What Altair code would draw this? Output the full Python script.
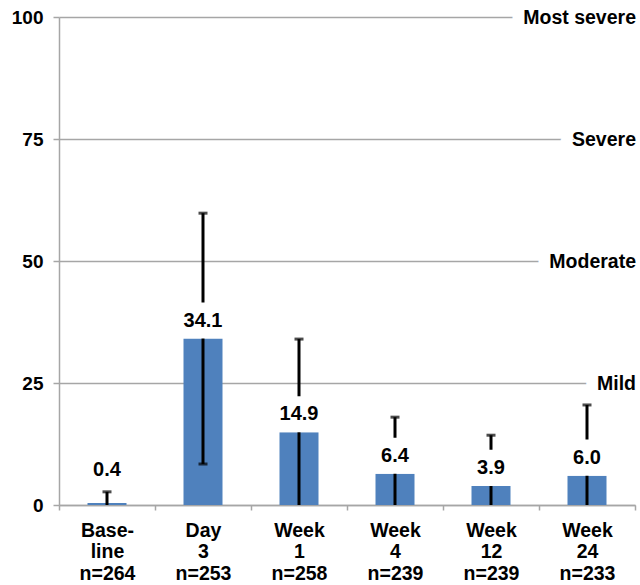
import altair as alt
import pandas as pd

# Time points (two label lines) and number of patients at each
line1 = ["Base-", "Day", "Week", "Week", "Week", "Week"]
line2 = ["line", "3", "1", "4", "12", "24"]
n_patients = [264, 253, 258, 239, 239, 233]

# Mean score and standard deviation at each time point
means = [0.4, 34.1, 14.9, 6.4, 3.9, 6.0]
sds = [2.3, 25.7, 19.1, 11.6, 10.4, 14.5]

# Severity bands on the right-hand side
level_values = [25, 50, 75, 100]
level_names = ["Mild", "Moderate", "Severe", "Most severe"]

FONT = "Liberation Sans"
GRID = "#A6A6A6"

cats = [f"{a}|{b}|n={n}" for a, b, n in zip(line1, line2, n_patients)]
df = pd.DataFrame({"cat": cats, "mean": means, "sd": sds})
levels = pd.DataFrame({"level": level_values, "name": level_names})

x_enc = alt.X(
    "cat:N",
    sort=cats,
    title=None,
    scale=alt.Scale(paddingInner=0, paddingOuter=0),
    axis=alt.Axis(
        labelExpr="isString(datum.value) ? split(datum.value, '|') : ''",
        labelAngle=0,
        tickBand="extent",
        tickSize=5,
        labelPadding=11,
        labelLineHeight=21.5,
        labelFontSize=19.5,
        domainColor=GRID,
        tickColor=GRID,
        domainWidth=1.5,
        tickWidth=1.5,
        grid=False,
    ),
)

y_scale = alt.Scale(domain=[0, 100])

base = alt.Chart(df).transform_calculate(
    hi="datum.mean + datum.sd",
    lo="max(datum.mean - datum.sd, 0)",
    lab="max(datum.mean, 3.4)",
    labtop="max(datum.mean, 3.4) + 7.4",
)

bars = base.mark_bar(size=39, color="#4F81BD").encode(
    x=x_enc,
    y=alt.Y(
        "mean:Q",
        scale=y_scale,
        title=None,
        axis=alt.Axis(
            values=[0, 25, 50, 75, 100],
            grid=True,
            gridColor=GRID,
            gridWidth=1.5,
            domainColor=GRID,
            domainWidth=1.5,
            tickColor=GRID,
            tickWidth=1.5,
            tickSize=6,
            labelPadding=10,
            labelFontSize=19,
        ),
    ),
)

err = base.mark_rule(strokeWidth=3, color="black").encode(
    x=x_enc, y=alt.Y("lo:Q", scale=y_scale), y2="hi:Q"
)

cap_hi = base.mark_tick(size=9, thickness=3, color="black").encode(
    x=x_enc, y=alt.Y("hi:Q", scale=y_scale)
)

cap_lo = base.transform_filter("datum.mean - datum.sd > 0").mark_tick(
    size=9, thickness=3, color="black"
).encode(x=x_enc, y=alt.Y("lo:Q", scale=y_scale))

label_box = base.mark_bar(size=46, color="white").encode(
    x=x_enc, y=alt.Y("lab:Q", scale=y_scale), y2="labtop:Q"
)

value_text = base.mark_text(
    dy=-12, baseline="alphabetic", fontSize=20, fontWeight="bold", font=FONT, color="black"
).encode(
    x=x_enc,
    y=alt.Y("lab:Q", scale=y_scale),
    text=alt.Text("mean:Q", format=".1f"),
)

lv = alt.Chart(levels)
level_halo = lv.mark_text(
    align="right", baseline="middle", dy=1, fontSize=19.5, fontWeight="bold", font=FONT,
    color="white", stroke="white", strokeWidth=24, strokeJoin="round",
).encode(x=alt.value(577), y=alt.Y("level:Q", scale=y_scale), text="name:N")

level_text = lv.mark_text(
    align="right", baseline="middle", dy=1, fontSize=19.5, fontWeight="bold", font=FONT,
    color="black",
).encode(x=alt.value(577), y=alt.Y("level:Q", scale=y_scale), text="name:N")

chart = (
    alt.layer(bars, err, cap_hi, cap_lo, label_box, value_text, level_halo, level_text)
    .properties(
        width=576,
        height=488,
        autosize=alt.AutoSizeParams(type="none"),
        padding={"left": 59, "top": 17, "right": 5, "bottom": 80},
        background="white",
    )
    .configure_view(stroke=None)
    .configure_axis(
        labelFont=FONT,
        labelFontWeight="bold",
        labelColor="black",
    )
)

chart.save("out.html", embed_options={"renderer": "svg", "actions": False})
